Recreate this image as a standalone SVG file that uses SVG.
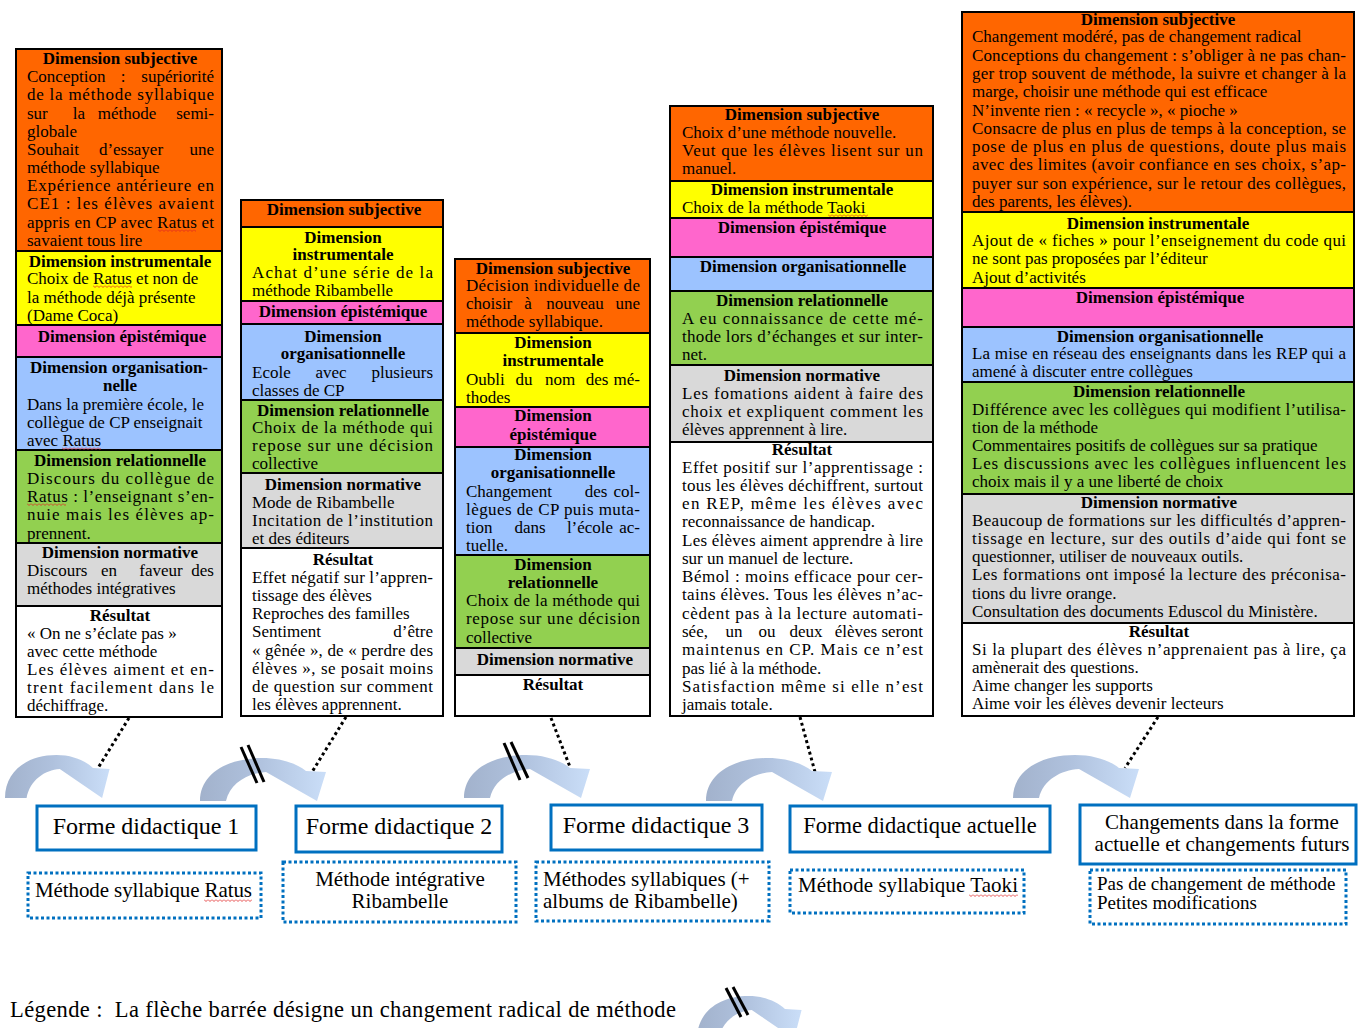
<svg xmlns="http://www.w3.org/2000/svg" width="1363" height="1028" viewBox="0 0 1363 1028">
<style>
text{font-family:"Liberation Serif","Times New Roman",serif;font-size:17px;fill:#000}
.h{font-weight:bold;text-anchor:middle}
.m{text-anchor:middle}
.e{text-anchor:end}
.sec{stroke:#000;stroke-width:2}
.or{fill:#FF6600}.ye{fill:#FFFF00}.pk{fill:#FF66CC}.bl{fill:#9CC3FF}.gr{fill:#92D050}.gy{fill:#D9D9D9}.wh{fill:#FFFFFF}
.fb{fill:#fff;stroke:#0070C0;stroke-width:3}
.db{fill:#fff;stroke:#0070C0;stroke-width:3;stroke-dasharray:3 2.5}
.dot{stroke:#000;stroke-width:3;stroke-dasharray:3 3;fill:none}
.sl{stroke:#000;stroke-width:3}
.sq{fill:url(#sq)}
</style>
<defs>
<pattern id="sq" width="4" height="3" patternUnits="userSpaceOnUse"><path d="M0,0.5 L2,2.5 L4,0.5" fill="none" stroke="#E02020" stroke-width="0.8"/></pattern>
<linearGradient id="ag" x1="0" y1="0" x2="1" y2="0"><stop offset="0" stop-color="#A2B2CC"/><stop offset="0.45" stop-color="#AFC1DD"/><stop offset="1" stop-color="#CADEF8"/></linearGradient>
<path id="carrow" d="M0,0 C0,-27 27,-43 62,-43 C80,-43 96,-38 106,-30 L126,-29 L117,0 L66,-29 C48,-28 30,-18 26,0 Z" fill="url(#ag)"/>
</defs>
<rect width="1363" height="1028" fill="#fff"/>

<g id="col1">
<rect class="sec or" x="16" y="49" width="206" height="202"/>
<rect class="sec ye" x="16" y="251" width="206" height="74"/>
<rect class="sec pk" x="16" y="325" width="206" height="32"/>
<rect class="sec bl" x="16" y="357" width="206" height="93"/>
<rect class="sec gr" x="16" y="450" width="206" height="93"/>
<rect class="sec gy" x="16" y="543" width="206" height="63"/>
<rect class="sec wh" x="16" y="606" width="206" height="111"/>
<text class="h" x="120" y="64">Dimension subjective</text>
<text x="27" y="82">Conception</text><text class="m" x="123" y="82">:</text><text class="e" x="214" y="82">supériorité</text>
<text x="27" y="100" textLength="187" lengthAdjust="spacing">de la méthode syllabique</text>
<text x="27" y="119">sur</text><text class="m" x="79" y="119">la</text><text class="m" x="127" y="119">méthode</text><text class="e" x="214" y="119">semi-</text>
<text x="27" y="137">globale</text>
<text x="27" y="155">Souhait</text><text class="m" x="131" y="155">d’essayer</text><text class="e" x="214" y="155">une</text>
<text x="27" y="173">méthode syllabique</text>
<text x="27" y="191" textLength="187" lengthAdjust="spacing">Expérience antérieure en</text>
<text x="27" y="209" textLength="187" lengthAdjust="spacing">CE1 : les élèves avaient</text>
<text x="27" y="228" textLength="187" lengthAdjust="spacing">appris en CP avec Ratus et</text>
<text x="27" y="246">savaient tous lire</text>
<text class="h" x="120" y="267">Dimension instrumentale</text>
<text x="27" y="284">Choix de Ratus et non de</text>
<text x="27" y="303">la méthode déjà présente</text>
<text x="27" y="321">(Dame Coca)</text>
<text class="h" x="122" y="342">Dimension épistémique</text>
<text class="h" x="119" y="373">Dimension organisation-</text>
<text class="h" x="120" y="391">nelle</text>
<text x="27" y="410">Dans la première école, le</text>
<text x="27" y="428">collègue de CP enseignait</text>
<text x="27" y="446">avec Ratus</text>
<text class="h" x="120" y="466">Dimension relationnelle</text>
<text x="27" y="484" textLength="187" lengthAdjust="spacing">Discours du collègue de</text>
<text x="27" y="502" textLength="187" lengthAdjust="spacing">Ratus : l’enseignant s’en-</text>
<text x="27" y="520" textLength="187" lengthAdjust="spacing">nuie mais les élèves ap-</text>
<text x="27" y="539">prennent.</text>
<text class="h" x="120" y="558">Dimension normative</text>
<text x="27" y="576">Discours</text><text class="m" x="109" y="576">en</text><text class="m" x="161" y="576">faveur</text><text class="e" x="214" y="576">des</text>
<text x="27" y="594">méthodes intégratives</text>
<text class="h" x="120" y="621">Résultat</text>
<text x="27" y="639">« On ne s’éclate pas »</text>
<text x="27" y="657">avec cette méthode</text>
<text x="27" y="675" textLength="187" lengthAdjust="spacing">Les élèves aiment et en-</text>
<text x="27" y="693" textLength="187" lengthAdjust="spacing">trent facilement dans le</text>
<text x="27" y="711">déchiffrage.</text>
<rect class="sq" transform="translate(158,229)" width="38" height="3"/>
<rect class="sq" transform="translate(93,285)" width="39" height="3"/>
<rect class="sq" transform="translate(62,447)" width="39" height="3"/>
<rect class="sq" transform="translate(27,503)" width="39" height="3"/>
</g>

<g id="col2">
<rect class="sec or" x="241" y="200" width="202" height="27"/>
<rect class="sec ye" x="241" y="227" width="202" height="74"/>
<rect class="sec pk" x="241" y="301" width="202" height="23"/>
<rect class="sec bl" x="241" y="324" width="202" height="76"/>
<rect class="sec gr" x="241" y="400" width="202" height="73"/>
<rect class="sec gy" x="241" y="473" width="202" height="75"/>
<rect class="sec wh" x="241" y="548" width="202" height="168"/>
<text class="h" x="344" y="215">Dimension subjective</text>
<text class="h" x="343" y="243">Dimension</text>
<text class="h" x="343" y="260">instrumentale</text>
<text x="252" y="278" textLength="181" lengthAdjust="spacing">Achat d’une série de la</text>
<text x="252" y="296">méthode Ribambelle</text>
<text class="h" x="343" y="317">Dimension épistémique</text>
<text class="h" x="343" y="342">Dimension</text>
<text class="h" x="343" y="359">organisationnelle</text>
<text x="252" y="378">Ecole</text><text class="m" x="331" y="378">avec</text><text class="e" x="433" y="378">plusieurs</text>
<text x="252" y="396">classes de CP</text>
<text class="h" x="343" y="416">Dimension relationnelle</text>
<text x="252" y="433" textLength="181" lengthAdjust="spacing">Choix de la méthode qui</text>
<text x="252" y="451" textLength="181" lengthAdjust="spacing">repose sur une décision</text>
<text x="252" y="469">collective</text>
<text class="h" x="343" y="490">Dimension normative</text>
<text x="252" y="508">Mode de Ribambelle</text>
<text x="252" y="526" textLength="181" lengthAdjust="spacing">Incitation de l’institution</text>
<text x="252" y="544">et des éditeurs</text>
<text class="h" x="343" y="565">Résultat</text>
<text x="252" y="583" textLength="181" lengthAdjust="spacing">Effet négatif sur l’appren-</text>
<text x="252" y="601">tissage des élèves</text>
<text x="252" y="619">Reproches des familles</text>
<text x="252" y="637">Sentiment</text><text class="e" x="433" y="637">d’être</text>
<text x="252" y="656" textLength="181" lengthAdjust="spacing">« gênée », de « perdre des</text>
<text x="252" y="674" textLength="181" lengthAdjust="spacing">élèves », se posait moins</text>
<text x="252" y="692" textLength="181" lengthAdjust="spacing">de question sur comment</text>
<text x="252" y="710">les élèves apprennent.</text>
</g>

<g id="col3">
<rect class="sec or" x="455" y="259" width="195" height="74"/>
<rect class="sec ye" x="455" y="333" width="195" height="74"/>
<rect class="sec pk" x="455" y="407" width="195" height="40"/>
<rect class="sec bl" x="455" y="447" width="195" height="108"/>
<rect class="sec gr" x="455" y="555" width="195" height="93"/>
<rect class="sec gy" x="455" y="648" width="195" height="27"/>
<rect class="sec wh" x="455" y="675" width="195" height="41"/>
<text class="h" x="553" y="274">Dimension subjective</text>
<text x="466" y="291" textLength="174" lengthAdjust="spacing">Décision individuelle de</text>
<text x="466" y="309">choisir</text><text class="m" x="528" y="309">à</text><text class="m" x="575" y="309">nouveau</text><text class="e" x="640" y="309">une</text>
<text x="466" y="327">méthode syllabique.</text>
<text class="h" x="553" y="348">Dimension</text>
<text class="h" x="553" y="366">instrumentale</text>
<text x="466" y="385">Oubli</text><text class="m" x="524" y="385">du</text><text class="m" x="560" y="385">nom</text><text class="m" x="597" y="385">des</text><text class="e" x="640" y="385">mé-</text>
<text x="466" y="403">thodes</text>
<text class="h" x="553" y="421">Dimension</text>
<text class="h" x="553" y="440">épistémique</text>
<text class="h" x="553" y="460">Dimension</text>
<text class="h" x="553" y="478">organisationnelle</text>
<text x="466" y="497">Changement</text><text class="m" x="596" y="497">des</text><text class="e" x="640" y="497">col-</text>
<text x="466" y="515" textLength="174" lengthAdjust="spacing">lègues de CP puis muta-</text>
<text x="466" y="533">tion</text><text class="m" x="530" y="533">dans</text><text class="m" x="590" y="533">l’école</text><text class="e" x="640" y="533">ac-</text>
<text x="466" y="551">tuelle.</text>
<text class="h" x="553" y="570">Dimension</text>
<text class="h" x="553" y="588">relationnelle</text>
<text x="466" y="606" textLength="174" lengthAdjust="spacing">Choix de la méthode qui</text>
<text x="466" y="624" textLength="174" lengthAdjust="spacing">repose sur une décision</text>
<text x="466" y="643">collective</text>
<text class="h" x="555" y="665">Dimension normative</text>
<text class="h" x="553" y="690">Résultat</text>
</g>

<g id="col4">
<rect class="sec or" x="670" y="106" width="263" height="75"/>
<rect class="sec ye" x="670" y="181" width="263" height="37"/>
<rect class="sec pk" x="670" y="218" width="263" height="39"/>
<rect class="sec bl" x="670" y="257" width="263" height="34"/>
<rect class="sec gr" x="670" y="291" width="263" height="74"/>
<rect class="sec gy" x="670" y="365" width="263" height="77"/>
<rect class="sec wh" x="670" y="442" width="263" height="274"/>
<text class="h" x="802" y="120">Dimension subjective</text>
<text x="682" y="138">Choix d’une méthode nouvelle.</text>
<text x="682" y="156" textLength="241" lengthAdjust="spacing">Veut que les élèves lisent sur un</text>
<text x="682" y="174">manuel.</text>
<text class="h" x="802" y="195">Dimension instrumentale</text>
<text x="682" y="213">Choix de la méthode Taoki</text>
<text class="h" x="802" y="233">Dimension épistémique</text>
<text class="h" x="803" y="272">Dimension organisationnelle</text>
<text class="h" x="802" y="306">Dimension relationnelle</text>
<text x="682" y="324" textLength="241" lengthAdjust="spacing">A eu connaissance de cette mé-</text>
<text x="682" y="342" textLength="241" lengthAdjust="spacing">thode lors d’échanges et sur inter-</text>
<text x="682" y="360">net.</text>
<text class="h" x="802" y="381">Dimension normative</text>
<text x="682" y="399" textLength="241" lengthAdjust="spacing">Les fomations aident à faire des</text>
<text x="682" y="417" textLength="241" lengthAdjust="spacing">choix et expliquent comment les</text>
<text x="682" y="435">élèves apprennent à lire.</text>
<text class="h" x="802" y="455">Résultat</text>
<text x="682" y="473" textLength="241" lengthAdjust="spacing">Effet positif sur l’apprentissage :</text>
<text x="682" y="491" textLength="241" lengthAdjust="spacing">tous les élèves déchiffrent, surtout</text>
<text x="682" y="509" textLength="241" lengthAdjust="spacing">en REP, même les élèves avec</text>
<text x="682" y="527">reconnaissance de handicap.</text>
<text x="682" y="546" textLength="241" lengthAdjust="spacing">Les élèves aiment apprendre à lire</text>
<text x="682" y="564">sur un manuel de lecture.</text>
<text x="682" y="582" textLength="241" lengthAdjust="spacing">Bémol : moins efficace pour cer-</text>
<text x="682" y="600" textLength="241" lengthAdjust="spacing">tains élèves. Tous les élèves n’ac-</text>
<text x="682" y="619" textLength="241" lengthAdjust="spacing">cèdent pas à la lecture automati-</text>
<text x="682" y="637">sée,</text><text class="m" x="734" y="637">un</text><text class="m" x="767" y="637">ou</text><text class="m" x="806" y="637">deux</text><text class="m" x="856" y="637">élèves</text><text class="e" x="923" y="637">seront</text>
<text x="682" y="655" textLength="241" lengthAdjust="spacing">maintenus en CP. Mais ce n’est</text>
<text x="682" y="674">pas lié à la méthode.</text>
<text x="682" y="692" textLength="241" lengthAdjust="spacing">Satisfaction même si elle n’est</text>
<text x="682" y="710">jamais totale.</text>
<rect class="sq" transform="translate(828,214)" width="40" height="3"/>
</g>

<g id="col5">
<rect class="sec or" x="962" y="12" width="392" height="200"/>
<rect class="sec ye" x="962" y="212" width="392" height="76"/>
<rect class="sec pk" x="962" y="288" width="392" height="39"/>
<rect class="sec bl" x="962" y="327" width="392" height="55"/>
<rect class="sec gr" x="962" y="382" width="392" height="112"/>
<rect class="sec gy" x="962" y="494" width="392" height="129"/>
<rect class="sec wh" x="962" y="623" width="392" height="93"/>
<text class="h" x="1158" y="25">Dimension subjective</text>
<text x="972" y="42">Changement modéré, pas de changement radical</text>
<text x="972" y="61" textLength="374" lengthAdjust="spacing">Conceptions du changement : s’obliger à ne pas chan-</text>
<text x="972" y="79" textLength="374" lengthAdjust="spacing">ger trop souvent de méthode, la suivre et changer à la</text>
<text x="972" y="97">marge, choisir une méthode qui est efficace</text>
<text x="972" y="116">N’invente rien : « recycle », « pioche »</text>
<text x="972" y="134" textLength="374" lengthAdjust="spacing">Consacre de plus en plus de temps à la conception, se</text>
<text x="972" y="152" textLength="374" lengthAdjust="spacing">pose de plus en plus de questions, doute plus mais</text>
<text x="972" y="170" textLength="374" lengthAdjust="spacing">avec des limites (avoir confiance en ses choix, s’ap-</text>
<text x="972" y="189" textLength="374" lengthAdjust="spacing">puyer sur son expérience, sur le retour des collègues,</text>
<text x="972" y="207">des parents, les élèves).</text>
<text class="h" x="1158" y="229">Dimension instrumentale</text>
<text x="972" y="246" textLength="374" lengthAdjust="spacing">Ajout de « fiches » pour l’enseignement du code qui</text>
<text x="972" y="264">ne sont pas proposées par l’éditeur</text>
<text x="972" y="283">Ajout d’activités</text>
<text class="h" x="1160" y="303">Dimension épistémique</text>
<text class="h" x="1160" y="342">Dimension organisationnelle</text>
<text x="972" y="359" textLength="374" lengthAdjust="spacing">La mise en réseau des enseignants dans les REP qui a</text>
<text x="972" y="377">amené à discuter entre collègues</text>
<text class="h" x="1159" y="397">Dimension relationnelle</text>
<text x="972" y="415" textLength="374" lengthAdjust="spacing">Différence avec les collègues qui modifient l’utilisa-</text>
<text x="972" y="433">tion de la méthode</text>
<text x="972" y="451">Commentaires positifs de collègues sur sa pratique</text>
<text x="972" y="469" textLength="374" lengthAdjust="spacing">Les discussions avec les collègues influencent les</text>
<text x="972" y="487">choix mais il y a une liberté de choix</text>
<text class="h" x="1159" y="508">Dimension normative</text>
<text x="972" y="526" textLength="374" lengthAdjust="spacing">Beaucoup de formations sur les difficultés d’appren-</text>
<text x="972" y="544" textLength="374" lengthAdjust="spacing">tissage en lecture, sur des outils d’aide qui font se</text>
<text x="972" y="562">questionner, utiliser de nouveaux outils.</text>
<text x="972" y="580" textLength="374" lengthAdjust="spacing">Les formations ont imposé la lecture des préconisa-</text>
<text x="972" y="599">tions du livre orange.</text>
<text x="972" y="617">Consultation des documents Eduscol du Ministère.</text>
<text class="h" x="1159" y="637">Résultat</text>
<text x="972" y="655" textLength="374" lengthAdjust="spacing">Si la plupart des élèves n’apprenaient pas à lire, ça</text>
<text x="972" y="673">amènerait des questions.</text>
<text x="972" y="691">Aime changer les supports</text>
<text x="972" y="709">Aime voir les élèves devenir lecteurs</text>
</g>

<g id="connectors">
<line class="dot" x1="129" y1="718" x2="98" y2="768"/>
<line class="dot" x1="346" y1="717" x2="312" y2="772"/>
<line class="dot" x1="551" y1="718" x2="570" y2="767"/>
<line class="dot" x1="800" y1="717" x2="815" y2="772"/>
<line class="dot" x1="1158" y1="717" x2="1125" y2="768"/>
<use href="#carrow" transform="translate(5,798) scale(0.83,1)"/>
<use href="#carrow" transform="translate(200,801)"/>
<use href="#carrow" transform="translate(464,798)"/>
<use href="#carrow" transform="translate(706,801)"/>
<use href="#carrow" transform="translate(1013,798)"/>
<line class="sl" x1="241" y1="747" x2="257" y2="783"/>
<line class="sl" x1="248" y1="745" x2="264" y2="782"/>
<line class="sl" x1="504" y1="743" x2="520" y2="780"/>
<line class="sl" x1="511" y1="742" x2="528" y2="778"/>
</g>

<g id="forme1">
<rect class="fb" x="37" y="806" width="219" height="44"/>
<text class="m" x="146" y="834" style="font-size:24px">Forme didactique 1</text>
</g>
<g id="forme2">
<rect class="fb" x="296" y="806" width="206" height="46"/>
<text class="m" x="399" y="834" style="font-size:24px">Forme didactique 2</text>
</g>
<g id="forme3">
<rect class="fb" x="551" y="805" width="211" height="45"/>
<text class="m" x="656" y="833" style="font-size:24px">Forme didactique 3</text>
</g>
<g id="forme-actuelle">
<rect class="fb" x="790" y="806" width="260" height="46"/>
<text class="m" x="920" y="833" style="font-size:22.5px">Forme didactique actuelle</text>
</g>
<g id="changements">
<rect class="fb" x="1080" y="805" width="276" height="59"/>
<text class="m" x="1222" y="829" style="font-size:21px">Changements dans la forme</text>
<text class="m" x="1222" y="851" style="font-size:21px">actuelle et changements futurs</text>
</g>

<g id="methode1">
<rect class="db" x="28" y="873" width="233" height="45"/>
<text x="35" y="897" style="font-size:21px" textLength="217" lengthAdjust="spacing">Méthode syllabique Ratus</text>
<rect class="sq" transform="translate(204,899)" width="48" height="3"/>
</g>
<g id="methode2">
<rect class="db" x="283" y="862" width="233" height="60"/>
<text class="m" x="400" y="886" style="font-size:21px">Méthode intégrative</text>
<text class="m" x="400" y="908" style="font-size:21px">Ribambelle</text>
</g>
<g id="methode3">
<rect class="db" x="536" y="862" width="233" height="59"/>
<text x="543" y="886" style="font-size:21px">Méthodes syllabiques (+</text>
<text x="543" y="908" style="font-size:21px">albums de Ribambelle)</text>
</g>
<g id="methode4">
<rect class="db" x="790" y="870" width="234" height="43"/>
<text x="798" y="892" style="font-size:21px" textLength="220" lengthAdjust="spacing">Méthode syllabique Taoki</text>
<rect class="sq" transform="translate(969,894)" width="49" height="3"/>
</g>
<g id="methode5">
<rect class="db" x="1090" y="870" width="256" height="54"/>
<text x="1097" y="890" style="font-size:19px">Pas de changement de méthode</text>
<text x="1097" y="909" style="font-size:19px">Petites modifications</text>
</g>

<g id="legende">
<text x="10" y="1017" style="font-size:22.5px" textLength="666" lengthAdjust="spacing">Légende :&#160; La flèche barrée désigne un changement radical de méthode</text>
<use href="#carrow" transform="translate(697,1039) scale(0.83,1)"/>
<line class="sl" x1="726" y1="988" x2="741" y2="1017"/>
<line class="sl" x1="733" y1="987" x2="748" y2="1015"/>
</g>
</svg>
